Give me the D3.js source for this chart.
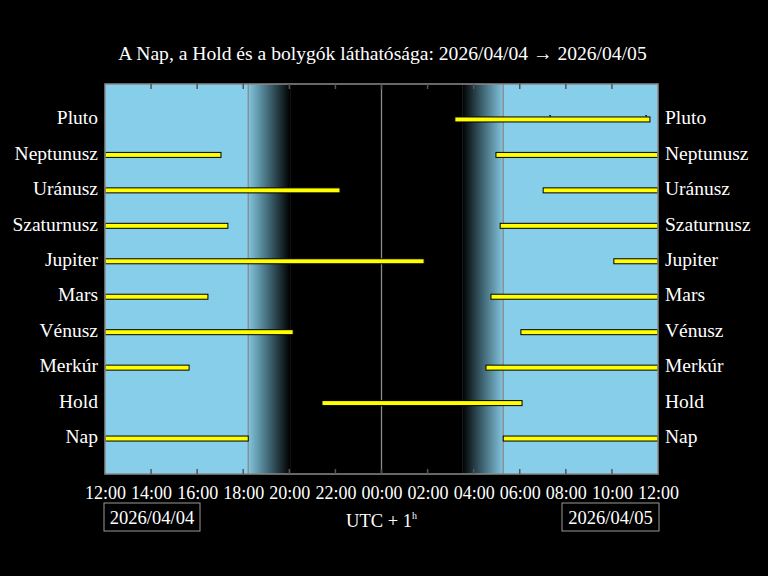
<!DOCTYPE html>
<html>
<head>
<meta charset="utf-8">
<script src="https://cdn.jsdelivr.net/npm/d3@7"></script>
<style>
  html, body { margin: 0; padding: 0; background: #000; }
  svg { display: block; }
  text { font-family: "Liberation Serif", "DejaVu Serif", serif; fill: #fff; }
</style>
</head>
<body>
<svg id="chart" width="768" height="576"></svg>
<script>
// ---- data ----
const titleText = "A Nap, a Hold és a bolygók láthatósága: 2026/04/04 \u2192 2026/04/05";
const bodies = ["Nap", "Hold", "Merkúr", "Vénusz", "Mars", "Jupiter", "Szaturnusz", "Uránusz", "Neptunusz", "Pluto"];
// visibility intervals (local time UTC+1), "YYYY-MM-DD HH:MM"
const intervals = [
  ["Nap", "2026-04-04 12:00", "2026-04-04 18:13"],
  ["Nap", "2026-04-05 05:17", "2026-04-05 12:00"],
  ["Hold", "2026-04-04 21:25", "2026-04-05 06:06"],
  ["Merkúr", "2026-04-04 12:00", "2026-04-04 15:39"],
  ["Merkúr", "2026-04-05 04:32", "2026-04-05 12:00"],
  ["Vénusz", "2026-04-04 12:00", "2026-04-04 20:10"],
  ["Vénusz", "2026-04-05 06:03", "2026-04-05 12:00"],
  ["Mars", "2026-04-04 12:00", "2026-04-04 16:28"],
  ["Mars", "2026-04-05 04:45", "2026-04-05 12:00"],
  ["Jupiter", "2026-04-04 12:00", "2026-04-05 01:51"],
  ["Jupiter", "2026-04-05 10:05", "2026-04-05 12:00"],
  ["Szaturnusz", "2026-04-04 12:00", "2026-04-04 17:20"],
  ["Szaturnusz", "2026-04-05 05:09", "2026-04-05 12:00"],
  ["Uránusz", "2026-04-04 12:00", "2026-04-04 22:12"],
  ["Uránusz", "2026-04-05 07:01", "2026-04-05 12:00"],
  ["Neptunusz", "2026-04-04 12:00", "2026-04-04 17:02"],
  ["Neptunusz", "2026-04-05 04:58", "2026-04-05 12:00"],
  ["Pluto", "2026-04-05 03:11", "2026-04-05 11:39"]
];
const plutoMarks = ["2026-04-05 07:19", "2026-04-05 11:29"];
const sunset = "2026-04-04 18:13";
const duskEnd = "2026-04-04 20:02";
const dawnStart = "2026-04-05 03:30";
const sunrise = "2026-04-05 05:17";
const midnight = "2026-04-05 00:00";
const domainStart = "2026-04-04 12:00";
const domainEnd = "2026-04-05 12:00";
const dateLabels = ["2026/04/04", "2026/04/05"];
const tzLabel = "UTC + 1";

// ---- layout ----
const parse = d3.utcParse("%Y-%m-%d %H:%M");
const svg = d3.select("#chart");
const L = 105, R = 658, T = 84, B = 474;
const sky = "#87CEEB";

const x = d3.scaleUtc().domain([parse(domainStart), parse(domainEnd)]).range([L, R]);
const y = d3.scaleLinear().domain([-1, bodies.length]).range([B, T]);

// title
svg.append("text").attr("x", (L + R) / 2 + 1).attr("y", 60).attr("text-anchor", "middle")
  .style("font-size", "19.6px").text(titleText);

// gradients
const defs = svg.append("defs");
const g1 = defs.append("linearGradient").attr("id", "dusk")
  .attr("gradientUnits", "userSpaceOnUse")
  .attr("x1", x(parse(sunset))).attr("x2", x(parse(duskEnd))).attr("y1", 0).attr("y2", 0);
g1.append("stop").attr("offset", 0).attr("stop-color", "#82c6df");
g1.append("stop").attr("offset", 0.5).attr("stop-color", "#3f6573");
g1.append("stop").attr("offset", 1).attr("stop-color", "#000");
const g2 = defs.append("linearGradient").attr("id", "dawn")
  .attr("gradientUnits", "userSpaceOnUse")
  .attr("x1", x(parse(dawnStart))).attr("x2", x(parse(sunrise))).attr("y1", 0).attr("y2", 0);
g2.append("stop").attr("offset", 0).attr("stop-color", "#000");
g2.append("stop").attr("offset", 0.5).attr("stop-color", "#3f6573");
g2.append("stop").attr("offset", 1).attr("stop-color", "#82c6df");

// background
svg.append("rect").attr("x", L).attr("y", T).attr("width", R - L).attr("height", B - T).attr("fill", sky);
svg.append("rect").attr("x", x(parse(sunset))).attr("y", T)
  .attr("width", x(parse(duskEnd)) - x(parse(sunset))).attr("height", B - T).attr("fill", "url(#dusk)");
svg.append("rect").attr("x", x(parse(duskEnd))).attr("y", T)
  .attr("width", x(parse(dawnStart)) - x(parse(duskEnd))).attr("height", B - T).attr("fill", "#000");
svg.append("rect").attr("x", x(parse(dawnStart))).attr("y", T)
  .attr("width", x(parse(sunrise)) - x(parse(dawnStart))).attr("height", B - T).attr("fill", "url(#dawn)");

// vertical lines: sunset, midnight, sunrise
[sunset, midnight, sunrise].forEach(t => {
  svg.append("line").attr("x1", x(parse(t))).attr("x2", x(parse(t)))
    .attr("y1", T).attr("y2", B).attr("stroke", "#8a8a8a").attr("stroke-width", 1.3);
});

// bars
const yi = name => y(bodies.indexOf(name));
svg.append("g").selectAll("rect").data(intervals).join("rect")
  .attr("x", d => x(parse(d[1])))
  .attr("y", d => yi(d[0]) - 2.5)
  .attr("width", d => x(parse(d[2])) - x(parse(d[1])))
  .attr("height", 5)
  .attr("fill", "#ffff00").attr("stroke", "#000").attr("stroke-width", 1);

// pluto marks
svg.append("g").selectAll("line").data(plutoMarks).join("line")
  .attr("x1", d => x(parse(d))).attr("x2", d => x(parse(d)))
  .attr("y1", yi("Pluto") - 4.5).attr("y2", yi("Pluto") - 3)
  .attr("stroke", "#000").attr("stroke-width", 1.5);

// frame
svg.append("rect").attr("x", L).attr("y", T).attr("width", R - L).attr("height", B - T)
  .attr("fill", "none").attr("stroke", "#8a8a8a").attr("stroke-width", 1.5);

// axes: ticks inward on top and bottom
const ticks = x.ticks(d3.utcHour.every(2));
const fmt = d3.utcFormat("%H:%M");
const bottom = d3.axisBottom(x).tickValues(ticks).tickFormat(fmt).tickSize(0).tickPadding(12);
const gb = svg.append("g").attr("transform", `translate(0,${B})`).call(bottom);
gb.select(".domain").remove();
gb.selectAll("text").style("font-size", "18px").style("font-family", "Liberation Serif").attr("fill", "#fff");
svg.append("g").selectAll("line.tb").data(ticks.slice(1, -1)).join("line")
  .attr("x1", d => x(d)).attr("x2", d => x(d)).attr("y1", B).attr("y2", B - 5)
  .attr("stroke", "#555").attr("stroke-width", 1.5);
svg.append("g").selectAll("line.tt").data(ticks.slice(1, -1)).join("line")
  .attr("x1", d => x(d)).attr("x2", d => x(d)).attr("y1", T).attr("y2", T + 5)
  .attr("stroke", "#555").attr("stroke-width", 1.5);

// y labels left and right
const leftAxis = d3.axisLeft(y).tickValues(d3.range(bodies.length)).tickFormat(i => bodies[i]).tickSize(0).tickPadding(7);
const gl = svg.append("g").attr("transform", `translate(${L},-2)`).call(leftAxis);
gl.select(".domain").remove();
gl.selectAll("text").style("font-size", "19.5px").style("font-family", "Liberation Serif").attr("fill", "#fff");
const rightAxis = d3.axisRight(y).tickValues(d3.range(bodies.length)).tickFormat(i => bodies[i]).tickSize(0).tickPadding(7);
const gr = svg.append("g").attr("transform", `translate(${R},-2)`).call(rightAxis);
gr.select(".domain").remove();
gr.selectAll("text").style("font-size", "19.5px").style("font-family", "Liberation Serif").attr("fill", "#fff");

// date boxes
const boxes = [{label: dateLabels[0], x0: L - 1, x1: 200}, {label: dateLabels[1], x0: 562, x1: R + 1}];
boxes.forEach(b => {
  svg.append("rect").attr("x", b.x0).attr("y", 503).attr("width", b.x1 - b.x0).attr("height", 28)
    .attr("fill", "none").attr("stroke", "#999").attr("stroke-width", 1);
  svg.append("text").attr("x", (b.x0 + b.x1) / 2).attr("y", 524).attr("text-anchor", "middle")
    .style("font-size", "18.5px").text(b.label);
});

// timezone label
const tz = svg.append("text").attr("x", x(parse(midnight))).attr("y", 527).attr("text-anchor", "middle")
  .style("font-size", "18.5px");
tz.append("tspan").text(tzLabel);
tz.append("tspan").attr("dy", -8).style("font-size", "10px").text("h");
</script>
</body>
</html>
